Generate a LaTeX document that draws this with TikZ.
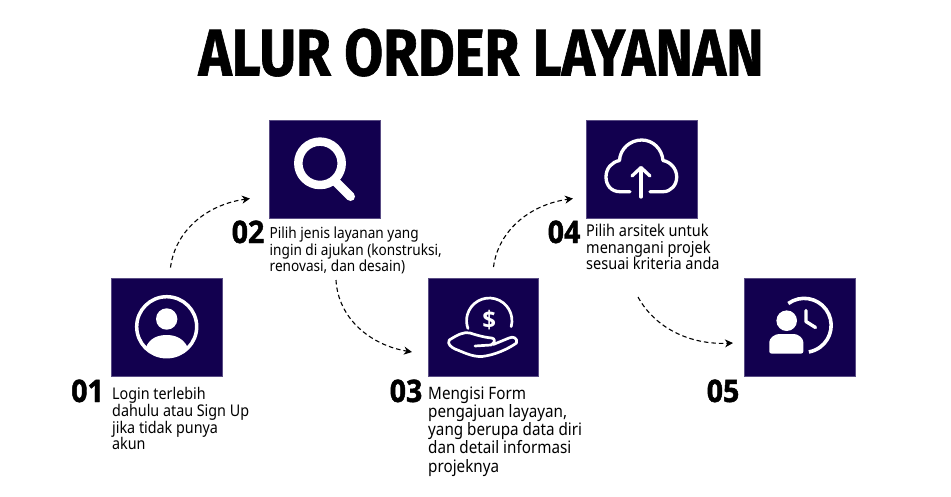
\documentclass[tikz,border=0pt]{standalone}
\usepackage{fontspec}
\usetikzlibrary{arrows.meta}
\newfontfamily\titlef[FakeStretch=0.855,FakeBold=0.9]{Fira Sans}
\newfontfamily\numf[FakeStretch=0.92,FakeBold=1.5]{Open Sans}
\newfontfamily\iconf{Open Sans}
\newfontfamily\bodyf[FakeStretch=0.89]{Noto Sans}
\definecolor{navy}{HTML}{12004F}
\tikzset{
  iconbox/.style={fill=navy,draw=navy!70!white,line width=.5pt,minimum width=110.8pt,minimum height=97.8pt,inner sep=0pt,anchor=north west},
  numlab/.style={font=\numf\bfseries\fontsize{31}{31}\selectfont,inner sep=0pt,anchor=base east,text=black},
  flow/.style={dash pattern=on 4.5pt off 3pt,line width=1.1pt,-{Stealth[length=8pt,width=8pt,inset=2.5pt]}},
  iconline/.style={draw=white,line width=3.3pt,line cap=round,line join=round},
  iconfill/.style={fill=white,draw=none}
}
\begin{document}
\begin{tikzpicture}[x=1pt,y=-1pt]
\useasboundingbox (0,0) rectangle (951,496);
\node[font=\titlef\bfseries\fontsize{66}{66}\selectfont,inner sep=0pt,anchor=base] (title) at (481,75.5) {ALUR ORDER LAYANAN};
% boxes
\node[iconbox] (b1) at (111,278) {};
\node[iconbox] (b2) at (269.2,120) {};
\node[iconbox] (b3) at (427.5,278) {};
\node[iconbox] (b4) at (585.7,120) {};
\node[iconbox] (b5) at (743.7,278) {};
% numbers
\node[numlab] (n1) at (104,402) {01};
\node[numlab] (n2) at (264.5,243) {02};
\node[numlab] (n3) at (422.5,402) {03};
\node[numlab] (n4) at (580.5,243) {04};
\node[numlab] (n5) at (739.5,402) {05};
% texts
\node[font=\bodyf\fontsize{16.1}{16.8}\selectfont,inner sep=0pt,anchor=north west,align=left] (t1) at (112,387) {Login terlebih\\dahulu atau Sign Up\\jika tidak punya\\akun};
\node[font=\bodyf\fontsize{15.3}{16.4}\selectfont,inner sep=0pt,anchor=north west,align=left] (t2) at (269.5,227) {Pilih jenis layanan yang\\ingin di ajukan (konstruksi,\\renovasi, dan desain)};
\node[font=\bodyf\fontsize{17.1}{18.2}\selectfont,inner sep=0pt,anchor=north west,align=left] (t3) at (428,386.5) {Mengisi Form\\pengajuan layayan,\\yang berupa data diri\\dan detail informasi\\projeknya};
\node[font=\bodyf\fontsize{16.3}{16.6}\selectfont,inner sep=0pt,anchor=north west,align=left] (t4) at (586,224) {Pilih arsitek untuk\\menangani projek\\sesuai kriteria anda};
% connectors
\coordinate (c1s) at (170.5,267.5); \coordinate (c1e) at (250,198.5);
\coordinate (c2s) at (336,280); \coordinate (c2e) at (412,352);
\coordinate (c3s) at (493.5,267); \coordinate (c3e) at (573,198.5);
\coordinate (c4s) at (638,297); \coordinate (c4e) at (733,343);
\draw[flow] (c1s) .. controls (175,232) and (205,205) .. (c1e);
\draw[flow] (c2s) .. controls (338,318) and (370,345) .. (c2e);
\draw[flow] (c3s) .. controls (498,232) and (528,205) .. (c3e);
\draw[flow] (c4s) .. controls (655,328) and (690,345) .. (c4e);
% icon 1
\draw[iconline,line width=3.5pt] (166.7,326.7) circle[radius=30pt];
\fill[iconfill] (166.7,319) circle[radius=10.7pt];
\begin{scope}
\clip (166.7,326.7) circle[radius=29pt];
\fill[iconfill] (146,347) .. controls (150,338) and (158,335) .. (166.7,335) .. controls (175,335) and (183,338) .. (187.5,347) -- (187.5,360) -- (146,360) -- cycle;
\end{scope}
% icon 2
\draw[iconline,line width=8.5pt] (320,163.3) circle[radius=21.7pt];
\draw[iconline,line width=9pt] (336,182) -- (350.5,196.5);
% icon 3
\draw[iconline,line width=2.7pt] (511.2,326.6) arc[start angle=-15,end angle=200,radius=22.7pt];
\node[font=\iconf\bfseries\fontsize{24}{24}\selectfont,text=white,inner sep=0pt] (dollar) at (489.3,320.5) {\$};
\draw[iconline,line width=2.7pt] (475,346) -- (491,345) .. controls (496,342) and (495,338.5) .. (491.7,338) .. controls (485,337.5) and (476,335) .. (470,333) .. controls (464,331.5) and (458,334.5) .. (449.3,340) .. controls (447,344) and (451,347) .. (455,349) .. controls (463,352) and (472,357) .. (482,356.5) .. controls (495,355) and (508,349) .. (516.5,343) .. controls (518,338) and (513,336) .. (509,338) -- (493.3,344.5);
% icon 4
\draw[iconline] (630,191.7) -- (620,191.7) .. controls (611,191.7) and (606,185) .. (606,177) .. controls (606,168) and (612,162) .. (619.5,160.5) .. controls (620,149) and (630,140) .. (641.7,140) .. controls (653,140) and (662,149) .. (663,160.5) .. controls (671,162) and (676.7,169) .. (676.7,177) .. controls (676.7,185) and (671,191.7) .. (663,191.7) -- (650,191.7);
\draw[iconline] (641,197) -- (641,168);
\draw[iconline] (632,176) -- (641,167.5) -- (650,176);
% icon 5
\fill[iconfill] (786.7,320.7) circle[radius=10.3pt];
\fill[iconfill,rounded corners=2pt] (769.3,353.5) -- (769.3,344) .. controls (769.3,338) and (775,334) .. (781,334) -- (792,334) .. controls (798,334) and (803.3,338) .. (803.3,344) -- (803.3,353.5) -- cycle;
\draw[draw=white,line width=3.6pt] (788.3,303.5) arc[start angle=126,end angle=-80,radius=27pt];
\draw[iconline,line width=3.4pt] (806,310.5) -- (806,321.5) -- (815.5,327.5);
\end{tikzpicture}
\end{document}
